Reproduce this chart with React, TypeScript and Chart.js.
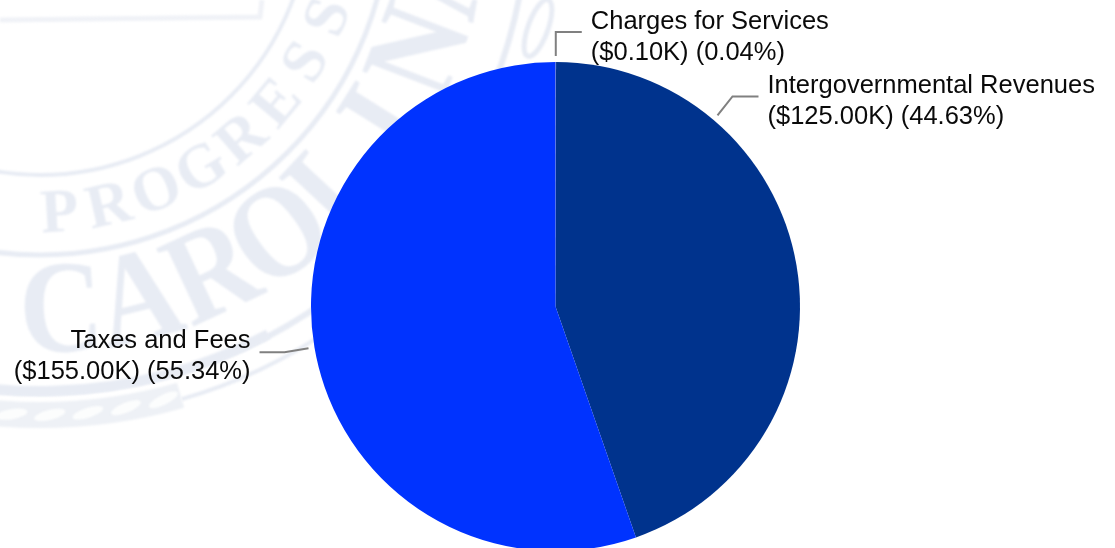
import React, { useEffect, useRef } from "react";
import { Chart, registerables } from "chart.js";

Chart.register(...registerables);

const categories = ["Charges for Services", "Intergovernmental Revenues", "Taxes and Fees"];
const amountsK = [0.1, 125, 155];
const percentLabels = ["0.04%", "44.63%", "55.34%"];
const sliceColors = ["#8a8a8a", "#00338d", "#0033ff"];

// Where along each slice's arc its leader starts (0 = start, 1 = end).
const leaderArcFraction = [0.5, 0.25, 0.5];
// Elbow and end of each leader, relative to its start.
const leaderOffsets = [
  [[0, -24], [26, -24]],
  [[15, -19], [41, -19]],
  [[-24, 4], [-49, 4]],
];
// Text anchor of each label, relative to the leader's end.
const labelOffsets = [
  [9, -3],
  [9, -3],
  [-9, -4],
];
const labelAligns: CanvasTextAlign[] = ["left", "left", "right"];

const FONT = '25.5px "Liberation Sans", Arial, sans-serif';
const SEAL_INK = "#e8ecf4";
const ROPE_INK = "#eef1f6";
const deg = (d: number) => (d * Math.PI) / 180;

// Bends a word around a circle, one glyph at a time, with the letter feet on the outer side.
function curvedWord(
  ctx: CanvasRenderingContext2D,
  cx: number,
  cy: number,
  radius: number,
  word: string,
  startDeg: number,
  stepDeg: number,
  font: string,
  squeeze: number,
) {
  ctx.font = font;
  ctx.textAlign = "center";
  ctx.textBaseline = "alphabetic";
  [...word].forEach((ch, i) => {
    const a = deg(startDeg + stepDeg * i);
    ctx.save();
    ctx.translate(cx + radius * Math.cos(a), cy + radius * Math.sin(a));
    ctx.rotate(a - Math.PI / 2);
    ctx.scale(squeeze, 1);
    ctx.fillText(ch, 0, 0);
    ctx.restore();
  });
}

// Faint state-seal artwork behind the pie.
const sealBackdrop = {
  id: "sealBackdrop",
  beforeDraw(chart: Chart) {
    const ctx = chart.ctx;
    const cx = 40;
    const cy = -95;
    ctx.save();
    ctx.fillStyle = "#ffffff";
    ctx.fillRect(0, 0, chart.width, chart.height);
    ctx.filter = "blur(0.8px)";
    ctx.strokeStyle = SEAL_INK;
    ctx.fillStyle = SEAL_INK;

    const ring = (r: number, w: number, from = 0, to = 360) => {
      ctx.lineWidth = w;
      ctx.beginPath();
      ctx.arc(cx, cy, r, deg(from), deg(to));
      ctx.stroke();
    };
    ring(270, 4);
    ring(350, 5);
    ring(488, 6);
    ring(486, 10, 62, 115);
    ring(514, 4, 55, 74);

    // Twisted rope under the outer ring
    ctx.strokeStyle = ROPE_INK;
    ring(510, 26, 74, 115);
    ctx.fillStyle = "#fcfdfd";
    for (let d = 76; d < 115; d += 4.3) {
      const a = deg(d);
      ctx.beginPath();
      ctx.ellipse(cx + 510 * Math.cos(a), cy + 510 * Math.sin(a), 16, 5, a - Math.PI / 2 - 0.22, 0, Math.PI * 2);
      ctx.fill();
    }
    ctx.fillStyle = SEAL_INK;
    ctx.strokeStyle = SEAL_INK;

    // Leaf near the top of the pie
    ctx.lineWidth = 5;
    ctx.beginPath();
    ctx.ellipse(538, 28, 10, 30, deg(20), 0, Math.PI * 2);
    ctx.stroke();

    // Frame in the top corner
    ctx.strokeStyle = "#f0f2f7";
    ctx.lineWidth = 5;
    ctx.beginPath();
    ctx.moveTo(0, 20);
    ctx.lineTo(260, 17);
    ctx.lineTo(262, 0);
    ctx.stroke();

    curvedWord(ctx, cx, cy, 327, "AND PROGRESS", 123.6, -9.3, 'bold 62px "Liberation Serif", serif', 1);
    curvedWord(ctx, cx, cy, 447, "CAROLINA", 87, -11, 'bold 132px "Liberation Serif", serif', 0.88);
    ctx.restore();
  },
};

// Leader lines and two-line labels, anchored on the arcs of the pie.
const sliceLabels = {
  id: "sliceLabels",
  afterDatasetsDraw(chart: Chart) {
    const ctx = chart.ctx;
    const arcs = chart.getDatasetMeta(0).data as any[];
    arcs.forEach((arc, i) => {
      const { x, y, startAngle, endAngle, outerRadius } = arc.getProps(
        ["x", "y", "startAngle", "endAngle", "outerRadius"],
        true,
      );
      const a = startAngle + (endAngle - startAngle) * leaderArcFraction[i];
      const sx = x + (outerRadius + 6) * Math.cos(a);
      const sy = y + (outerRadius + 6) * Math.sin(a);
      const [elbow, end] = leaderOffsets[i];
      ctx.save();
      ctx.strokeStyle = "#808080";
      ctx.lineWidth = 2;
      ctx.beginPath();
      ctx.moveTo(sx, sy);
      ctx.lineTo(sx + elbow[0], sy + elbow[1]);
      ctx.lineTo(sx + end[0], sy + end[1]);
      ctx.stroke();

      ctx.fillStyle = "#0a0a0a";
      ctx.font = FONT;
      ctx.textAlign = labelAligns[i];
      ctx.textBaseline = "alphabetic";
      const tx = sx + end[0] + labelOffsets[i][0];
      const ty = sy + end[1] + labelOffsets[i][1];
      ctx.fillText(categories[i], tx, ty);
      ctx.fillText(`($${amountsK[i].toFixed(2)}K) (${percentLabels[i]})`, tx, ty + 31);
      ctx.restore();
    });
  },
};

export default function App() {
  const canvasRef = useRef<HTMLCanvasElement>(null);

  useEffect(() => {
    document.body.style.margin = "0";
    const chart = new Chart(canvasRef.current!, {
      type: "pie",
      data: {
        labels: categories,
        datasets: [{ data: amountsK, backgroundColor: sliceColors, borderWidth: 0 }],
      },
      options: {
        animation: false,
        responsive: false,
        layout: { padding: { top: 62, bottom: 0, left: 0, right: 4 } },
        plugins: { legend: { display: false }, tooltip: { enabled: false } },
      },
      plugins: [sealBackdrop, sliceLabels],
    });
    return () => chart.destroy();
  }, []);

  return (
    <div style={{ width: 1115, height: 548, overflow: "hidden" }}>
      <canvas ref={canvasRef} width={1115} height={551} style={{ display: "block" }} />
    </div>
  );
}
